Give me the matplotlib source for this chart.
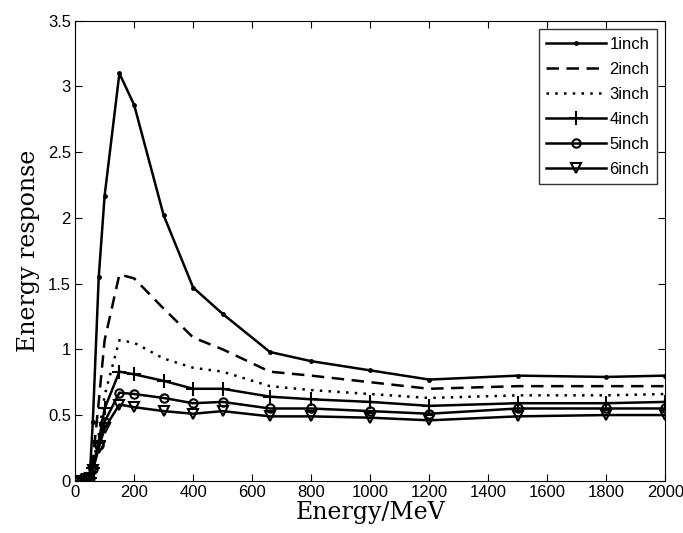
import numpy as np
import matplotlib.pyplot as plt

# energy points (MeV)
energy = [20, 30, 40, 50, 60, 80, 100, 150, 200, 300, 400, 500, 660, 800, 1000, 1200, 1500, 1800, 2000]

resp_1inch = [0.0, 0.0, 0.01, 0.05, 0.45, 1.55, 2.17, 3.10, 2.86, 2.02, 1.47, 1.27, 0.98, 0.91, 0.84, 0.77, 0.80, 0.79, 0.80]
resp_2inch = [0.0, 0.0, 0.01, 0.03, 0.15, 0.60, 1.07, 1.57, 1.54, 1.31, 1.09, 1.00, 0.83, 0.80, 0.75, 0.70, 0.72, 0.72, 0.72]
resp_3inch = [0.0, 0.0, 0.01, 0.03, 0.12, 0.35, 0.65, 1.07, 1.05, 0.93, 0.86, 0.83, 0.72, 0.69, 0.66, 0.63, 0.65, 0.65, 0.66]
resp_4inch = [0.0, 0.0, 0.01, 0.02, 0.10, 0.30, 0.55, 0.83, 0.81, 0.76, 0.70, 0.70, 0.64, 0.62, 0.60, 0.57, 0.59, 0.59, 0.60]
resp_5inch = [0.0, 0.0, 0.01, 0.02, 0.09, 0.27, 0.45, 0.67, 0.66, 0.63, 0.59, 0.60, 0.55, 0.55, 0.53, 0.51, 0.55, 0.55, 0.55]
resp_6inch = [0.0, 0.0, 0.01, 0.02, 0.08, 0.25, 0.40, 0.58, 0.56, 0.53, 0.51, 0.53, 0.49, 0.49, 0.48, 0.46, 0.49, 0.50, 0.50]

labels = ['1inch', '2inch', '3inch', '4inch', '5inch', '6inch']
series = [resp_1inch, resp_2inch, resp_3inch, resp_4inch, resp_5inch, resp_6inch]
styles = [('-', '.', 4), ((0, (5, 3)), None, 0), ((0, (1, 2.5)), None, 0),
          ('-', '+', 10), ('-', 'o', 6), ('-', 'v', 7)]

fig = plt.figure(figsize=(6.83, 5.33), dpi=100)
ax = fig.add_axes([0.110, 0.098, 0.864, 0.863])

for y, lab, (ls, mk, ms) in zip(series, labels, styles):
    ax.plot(energy, y, color='black', linestyle=ls, marker=mk, markersize=ms,
            markerfacecolor='none', markeredgewidth=1.5, linewidth=1.8, label=lab)

ax.set_xlim(0, 2000)
ax.set_ylim(0, 3.5)
ax.set_xticks(np.arange(0, 2001, 200))
ax.set_yticks(np.arange(0, 3.51, 0.5))
ax.set_yticklabels(['0', '0.5', '1', '1.5', '2', '2.5', '3', '3.5'])
ax.tick_params(direction='in', top=True, right=True, labelsize=12, length=5, pad=3)
for lbl in ax.get_xticklabels() + ax.get_yticklabels():
    lbl.set_family('Liberation Sans')

ax.set_xlabel('Energy/MeV', family='DejaVu Serif', fontsize=17, labelpad=1)
ax.set_ylabel('Energy response', family='DejaVu Serif', fontsize=17, labelpad=6)

leg = ax.legend(loc='upper right', frameon=True, fancybox=False, edgecolor='black',
                prop={'family': 'Liberation Sans', 'size': 12}, handlelength=3.6,
                handletextpad=0.2, labelspacing=0.6, borderaxespad=0.5, borderpad=0.45)
leg.get_frame().set_linewidth(1.0)

fig.savefig('out.png', dpi=100)
